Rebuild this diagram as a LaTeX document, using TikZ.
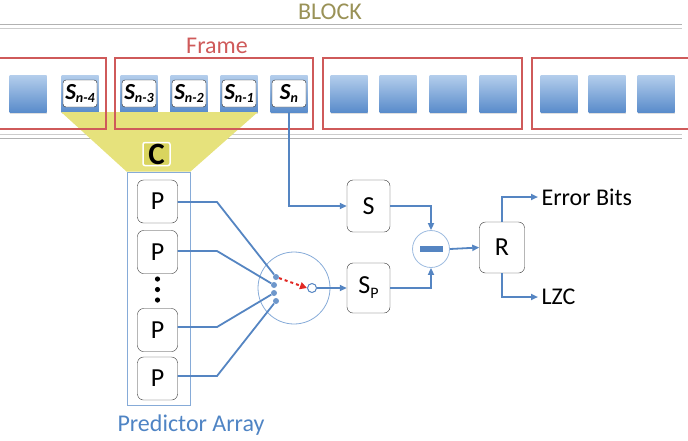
\documentclass[tikz,border=0pt]{standalone}
\usepackage{fontspec}
\setmainfont{Carlito}
\usepackage{xcolor}
\usetikzlibrary{arrows.meta,shadows}

\definecolor{blockcol}{HTML}{9A9257}
\definecolor{framecol}{HTML}{CF5A5A}
\definecolor{linecol}{HTML}{5585C2}
\definecolor{thincol}{HTML}{86ABD8}
\definecolor{sqtop}{HTML}{B4CEEC}
\definecolor{sqbot}{HTML}{5A8CCB}
\definecolor{trapcol}{HTML}{E6E27C}
\definecolor{ccol}{HTML}{D9D45E}
\definecolor{predcol}{HTML}{4F84C4}

\newcommand{\slab}[1]{{\bfseries\itshape S\raisebox{-3pt}{\fontsize{14}{14}\selectfont #1}}}

\begin{document}
\begin{tikzpicture}[x=1pt, y=-1pt,
  sample/.style={minimum width=37pt, minimum height=37pt, inner sep=0pt, top color=sqtop, bottom color=sqbot,
    drop shadow={opacity=0.25, shadow xshift=0pt, shadow yshift=-1.5pt}},
  slabel/.style={draw=black!85, fill=white, rounded corners=3pt, minimum width=34pt, minimum height=27pt, inner sep=0pt,
    font=\fontsize{23}{23}\selectfont},
  frmbox/.style={draw=framecol, line width=1.4pt},
  pbox/.style={draw=black!80, fill=white, rounded corners=6pt, minimum width=40pt, minimum height=43pt, inner sep=0pt,
    font=\fontsize{26}{26}\selectfont},
  conn/.style={draw=linecol, line width=1.8pt},
  tip/.style={-{Triangle[length=7pt,width=6pt]}},
  dot/.style={circle, fill=linecol!85, minimum size=6pt, inner sep=0pt},
  txt/.style={font=\fontsize{24}{24}\selectfont}]
\useasboundingbox (0,0) rectangle (688,440);

% block rails
\draw[black!30, line width=1pt] (0,24) -- (682,24);
\draw[black!20, line width=1pt] (0,28) -- (682,28);
\draw[black!20, line width=1pt] (0,134) -- (682,134);
\draw[black!30, line width=1pt] (0,138) -- (682,138);
\node[txt, text=blockcol] (block) at (330,12) {BLOCK};

% predictor array
\node[draw=thincol, line width=0.8pt, minimum width=63pt, minimum height=233pt, inner sep=0pt] (parr) at (158.5,288.5) {};
\node[txt, text=predcol] (plabel) at (191,425) {Predictor Array};

% samples
\node[sample] (q1) at (28,93.5) {};
\node[sample] (q2) at (80,93.5) {};
\node[sample] (q3) at (139,93.5) {};
\node[sample] (q4) at (189,93.5) {};
\node[sample] (q5) at (239,93.5) {};
\node[sample] (q6) at (289,93.5) {};
\node[sample] (q7) at (349,93.5) {};
\node[sample] (q8) at (398,93.5) {};
\node[sample] (q9) at (448,93.5) {};
\node[sample] (q10) at (498,93.5) {};
\node[sample] (q11) at (559,93.5) {};
\node[sample] (q12) at (607,93.5) {};
\node[sample] (q13) at (656,93.5) {};

% context window
\fill[trapcol] (q2.south west) -- (q5.south east) -- (parr.north east) -- (parr.north west) -- cycle;
\node[draw=white, line width=1.5pt, fill=ccol, rounded corners=2pt, minimum width=27pt, minimum height=23pt, inner sep=0pt,
  font=\fontsize{31}{31}\selectfont\bfseries] (ctx) at (156.5,154) {C};

% frames
\draw[frmbox] (-2,58) rectangle (106,129);
\draw[frmbox] (115,58) rectangle (313,129);
\draw[frmbox] (323,58) rectangle (522,129);
\draw[frmbox] (532,58) rectangle (692,129);
\node[txt, text=framecol] (frame) at (217,46) {Frame};

\node[slabel] (s4) at (q2) {\slab{n-4}};
\node[slabel] (s3) at (q3) {\slab{n-3}};
\node[slabel] (s2) at (q4) {\slab{n-2}};
\node[slabel] (s1) at (q5) {\slab{n-1}};
\node[slabel] (s0) at (q6) {\slab{n}};

% predictors
\node[pbox] (p1) at (157.5,201.5) {P};
\node[pbox] (p2) at (157.5,252) {P};
\fill[black] (157.5,279) circle (2.6) (157.5,289.5) circle (2.6) (157.5,300) circle (2.6);
\node[pbox] (p3) at (157.5,330) {P};
\node[pbox] (p4) at (157.5,378.5) {P};

% selector
\node[circle, draw=thincol, line width=0.8pt, minimum size=72pt, inner sep=0pt] (comb) at (294,288) {};
\node[dot] (e1) at (276,277) {};
\node[dot] (e2) at (274,285) {};
\node[dot] (e3) at (274,293) {};
\node[dot] (e4) at (276,301) {};
\node[circle, draw=linecol, fill=white, line width=1pt, minimum size=9pt, inner sep=0pt] (sel) at (312,288) {};
\coordinate (j1) at (217,202);
\coordinate (j2) at (217,251);
\coordinate (j3) at (217,327);
\coordinate (j4) at (217,376);
\draw[conn] (p1.east |- j1) -- (j1) -- (e1);
\draw[conn] (p2.east |- j2) -- (j2) -- (e2);
\draw[conn] (p3.east |- j3) -- (j3) -- (e3);
\draw[conn] (p4.east |- j4) -- (j4) -- (e4);
\draw[draw={rgb,255:red,225;green,40;blue,35}, line width=2pt, dashed, -{Triangle[length=7pt,width=7pt]}] (e1) -- (sel.west);

% residual
\node[pbox, minimum width=43pt, minimum height=52pt] (s) at (368.5,206) {S};
\node[pbox, minimum width=43pt, minimum height=50pt] (sp) at (368.5,288) {S\raisebox{-5pt}{\fontsize{16}{16}\selectfont P}};
\node[circle, draw=thincol!80, fill=white, line width=0.8pt, minimum size=37pt, inner sep=0pt] (minus) at (431,249)
  {\color{linecol}\rule[-3pt]{23pt}{6pt}};
\node[pbox, minimum width=45pt, minimum height=51pt] (r) at (502,247.5) {R};
\node[txt, anchor=west] (err) at (538,197) {Error Bits};
\node[txt, anchor=west] (lzc) at (538,297) {LZC};

\draw[conn, tip] (q6.south) |- (s.west);
\draw[conn, tip] (sel.east) -- (sp.west);
\draw[conn, tip] (s.east) -| (minus.north);
\draw[conn, tip] (sp.east) -| (minus.south);
\draw[conn, tip] (minus.east) -- (r.west);
\draw[conn, tip] (r.north) |- (err.west);
\draw[conn, tip] (r.south) |- (lzc.west);
\end{tikzpicture}
\end{document}
